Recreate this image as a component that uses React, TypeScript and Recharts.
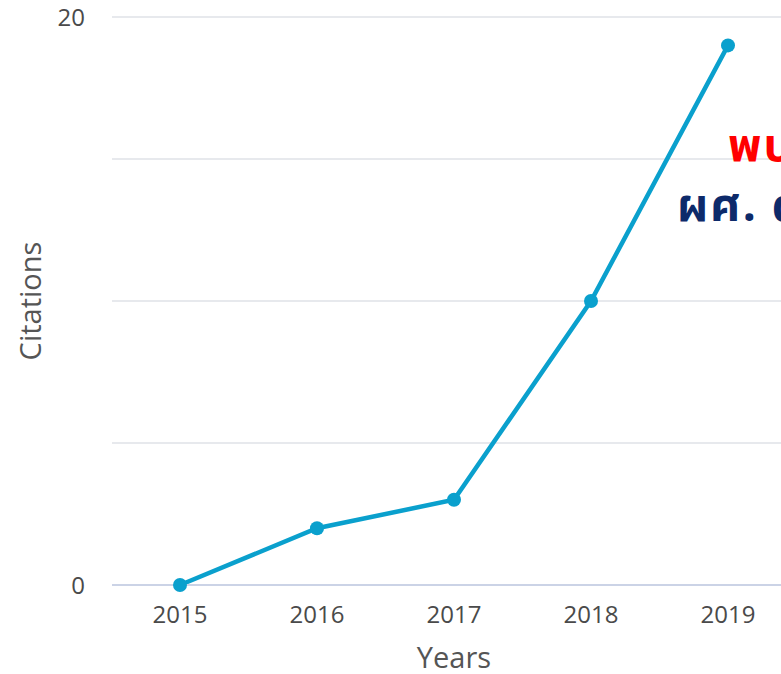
import React from 'react';
import { LineChart, Line, XAxis, YAxis, CartesianGrid } from 'recharts';

const years = ['2015', '2016', '2017', '2018', '2019'];
const citations = [0, 2, 3, 10, 19];
const yTicks = [0, 5, 10, 15, 20];
const yLabelTicks = [0, 20];
const overlayRed = 'พบ';
const overlayNavy = 'ผศ. ด';

const data = years.map((y, i) => ({ year: y, citations: citations[i] }));

const FONT = '"Open Sans", "Noto Sans", sans-serif';
const THAI = 'Tahoma, "Noto Sans Thai", "Loma", "Garuda", sans-serif';

const XTick = (props: any) => {
  const { x, y, payload } = props;
  return (
    <text x={x} y={y + 30} textAnchor="middle" fontFamily={FONT} fontSize={24} fill="#4a4a4a">
      {payload.value}
    </text>
  );
};

const YTick = (props: any) => {
  const { x, y, payload } = props;
  if (!yLabelTicks.includes(payload.value)) return <g />;
  return (
    <text x={x - 19} y={y + 9} textAnchor="end" fontFamily={FONT} fontSize={24} fill="#4a4a4a">
      {payload.value}
    </text>
  );
};

const YLabel = (props: any) => {
  const { viewBox } = props;
  const cy = viewBox.y + viewBox.height / 2;
  return (
    <text
      x={41}
      y={cy}
      transform={`rotate(-90, 41, ${cy})`}
      textAnchor="middle"
      fontFamily={FONT}
      fontSize={29}
      fill="#555555"
    >
      Citations
    </text>
  );
};

const XLabel = (props: any) => {
  const { viewBox } = props;
  const cx = viewBox.x + viewBox.width / 2;
  return (
    <text x={cx} y={668} textAnchor="middle" fontFamily={FONT} fontSize={29} fill="#555555">
      Years
    </text>
  );
};

export default function App() {
  return (
    <div
      style={{
        position: 'absolute',
        left: 0,
        top: 0,
        width: 781,
        height: 674,
        overflow: 'hidden',
        background: '#ffffff',
      }}
    >
      <LineChart width={796} height={674} data={data} margin={{ top: 17, right: 0, left: 0, bottom: 0 }}>
        <CartesianGrid vertical={false} stroke="#dfe2e7" strokeWidth={1.5} />
        <XAxis
          dataKey="year"
          height={89}
          padding={{ left: 68, right: 68 }}
          tickLine={false}
          axisLine={{ stroke: '#cbd3e6', strokeWidth: 2 }}
          tick={<XTick />}
          interval={0}
          label={<XLabel />}
        />
        <YAxis
          width={112}
          domain={[0, 20]}
          ticks={yTicks}
          axisLine={false}
          tickLine={false}
          tick={<YTick />}
          interval={0}
          label={<YLabel />}
        />
        <Line
          type="linear"
          dataKey="citations"
          stroke="#0aa0cd"
          strokeWidth={4.5}
          dot={{ r: 7, fill: '#0aa0cd', stroke: '#0aa0cd', strokeWidth: 0 }}
          activeDot={false}
          isAnimationActive={false}
        />
      </LineChart>
      <div
        style={{
          position: 'absolute',
          left: 728,
          top: 124,
          fontFamily: THAI,
          fontWeight: 'bold',
          fontSize: 46,
          color: '#ff0000',
          whiteSpace: 'nowrap',
          lineHeight: '46px',
          letterSpacing: 2,
        }}
      >
        {overlayRed}
      </div>
      <div
        style={{
          position: 'absolute',
          left: 677,
          top: 184,
          fontFamily: THAI,
          fontWeight: 'bold',
          fontSize: 46,
          color: '#0d2a6a',
          whiteSpace: 'nowrap',
          lineHeight: '46px',
          letterSpacing: 2,
        }}
      >
        {overlayNavy}
      </div>
    </div>
  );
}
